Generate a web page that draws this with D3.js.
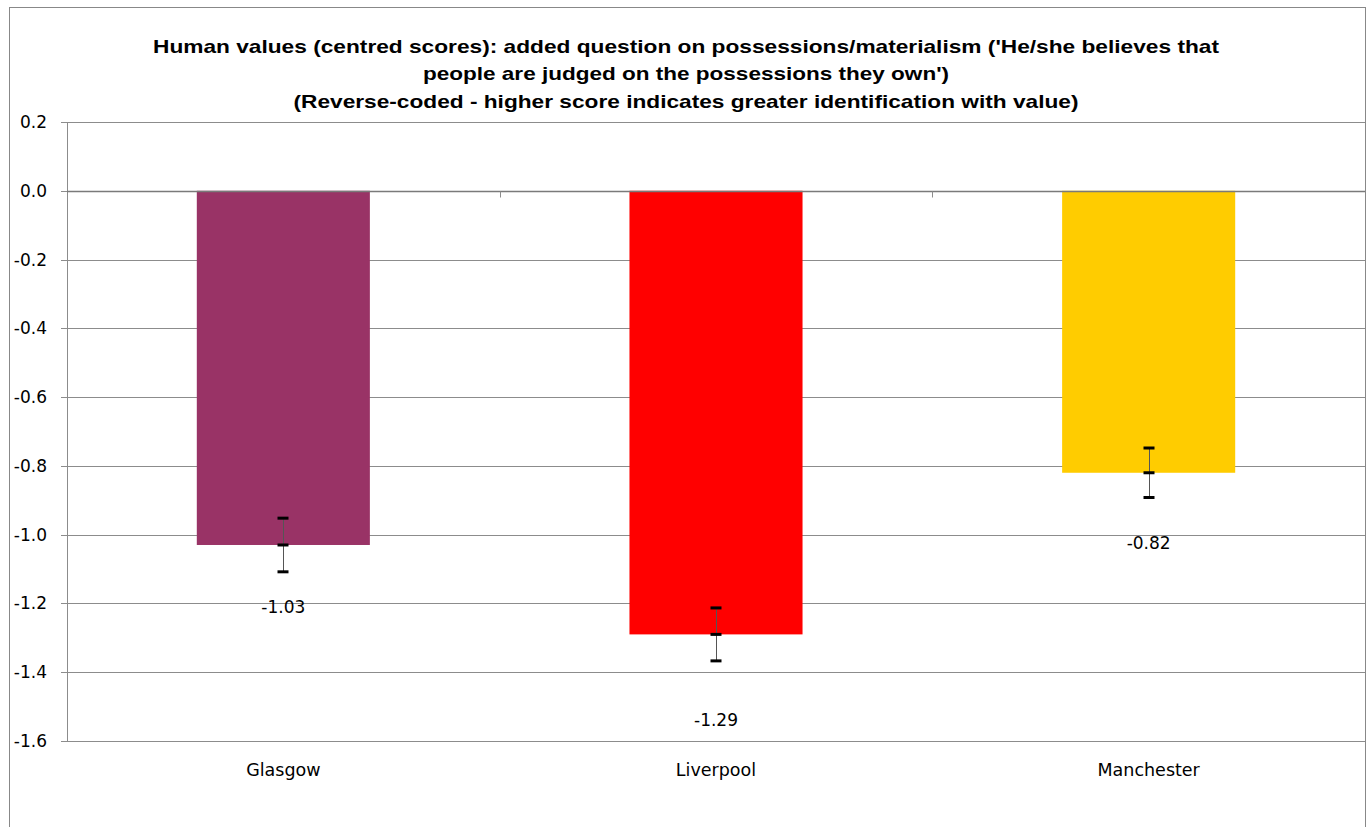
<!DOCTYPE html>
<html><head><meta charset="utf-8">
<script src="https://cdn.jsdelivr.net/npm/d3@7"></script>
<style>body{margin:0;background:#fff;}svg{display:block;}</style>
</head><body>
<svg id="c" width="1368" height="827"></svg>
<script>
const categories = ["Glasgow", "Liverpool", "Manchester"];
const values = [-1.03, -1.29, -0.82];
const errors = [0.078, 0.077, 0.072];
const labels = ["-1.03", "-1.29", "-0.82"];
const colors = ["#993366", "#FF0000", "#FFCC00"];
const yTicks = [0.2, 0.0, -0.2, -0.4, -0.6, -0.8, -1.0, -1.2, -1.4, -1.6];
const labelGap = [62, 86, 70];
const titleLines = [
  "Human values (centred scores): added question on possessions/materialism ('He/she believes that",
  "people are judged on the possessions they own')",
  "(Reverse-coded - higher score indicates greater identification with value)"
];

const FONT = "'DejaVu Sans', sans-serif";
const svg = d3.select("#c");
const W = 1368, H = 827;
const m = {left: 67, right: 1365, top: 122, bottom: 741};

svg.append("rect").attr("x", 9.5).attr("y", 7.5).attr("width", W - 12).attr("height", H + 10)
  .attr("fill", "#fff").attr("stroke", "#888").attr("stroke-width", 1);

const x = d3.scaleBand().domain(categories).range([m.left, m.right]).paddingInner(0.6).paddingOuter(0.3);
const y = d3.scaleLinear().domain([-1.6, 0.2]).range([m.bottom, m.top]);

// gridlines
svg.append("g").selectAll("line").data(yTicks).join("line")
  .attr("x1", m.left - 6).attr("x2", m.right)
  .attr("y1", d => Math.round(y(d)) + 0.5).attr("y2", d => Math.round(y(d)) + 0.5)
  .attr("stroke", "#8c8c8c").attr("stroke-width", 1);

// y axis line
svg.append("line").attr("x1", m.left + 0.5).attr("x2", m.left + 0.5)
  .attr("y1", y(0.2)).attr("y2", y(-1.6)).attr("stroke", "#8c8c8c");

// y labels
svg.append("g").selectAll("text").data(yTicks).join("text")
  .attr("x", 47).attr("y", d => y(d)).attr("dy", "0.35em")
  .attr("text-anchor", "end").attr("font-family", FONT)
  .attr("font-size", 17).attr("fill", "#000")
  .text(d => d3.format(".1f")(d).replace("−", "-"));

// bars
svg.append("g").selectAll("rect").data(categories).join("rect")
  .attr("x", d => x(d)).attr("width", x.bandwidth())
  .attr("y", (d, i) => y(0)).attr("height", (d, i) => y(values[i]) - y(0))
  .attr("fill", (d, i) => colors[i]);

// category axis at 0
const y0 = Math.round(y(0)) + 0.5;
svg.append("line").attr("x1", m.left).attr("x2", m.right).attr("y1", y0).attr("y2", y0)
  .attr("stroke", "#7a7a7a").attr("stroke-width", 1.5);
const bounds = [1, 2].map(k => m.left + k * (m.right - m.left) / 3);
svg.append("g").selectAll("line").data(bounds).join("line")
  .attr("x1", d => Math.round(d) + 0.5).attr("x2", d => Math.round(d) + 0.5)
  .attr("y1", y0).attr("y2", y0 + 6).attr("stroke", "#8c8c8c");

// error bars
const eg = svg.append("g");
categories.forEach((c, i) => {
  const cx = Math.round(x(c) + x.bandwidth() / 2) + 0.5;
  const v = values[i], e = errors[i];
  eg.append("line").attr("x1", cx).attr("x2", cx).attr("y1", y(v + e)).attr("y2", y(v - e))
    .attr("stroke", "#555").attr("stroke-width", 1);
  [v + e, v, v - e].forEach(t => {
    eg.append("line").attr("x1", cx - 6).attr("x2", cx + 5).attr("y1", y(t)).attr("y2", y(t))
      .attr("stroke", "#000").attr("stroke-width", 3);
  });
});

// data labels
svg.append("g").selectAll("text").data(categories).join("text")
  .attr("x", d => x(d) + x.bandwidth() / 2)
  .attr("y", (d, i) => y(values[i]) + labelGap[i]).attr("dy", "0.35em")
  .attr("text-anchor", "middle").attr("font-family", FONT)
  .attr("font-size", 17).attr("fill", "#000")
  .text((d, i) => labels[i]);

// category labels
svg.append("g").selectAll("text").data(categories).join("text")
  .attr("x", d => x(d) + x.bandwidth() / 2).attr("y", 770).attr("dy", "0.35em")
  .attr("text-anchor", "middle").attr("font-family", FONT)
  .attr("font-size", 17.5).attr("fill", "#000")
  .text(d => d);

// title
const tl = [1066, 526, 785];
const ty = [46, 73, 101];
svg.append("g").selectAll("text").data(titleLines).join("text")
  .attr("x", 686).attr("y", (d, i) => ty[i]).attr("dy", "0.35em")
  .attr("text-anchor", "middle")
  .attr("font-family", "'Liberation Sans Narrow', 'Liberation Sans', sans-serif")
  .attr("font-weight", "bold").attr("font-size", 19).attr("fill", "#000")
  .attr("textLength", (d, i) => tl[i]).attr("lengthAdjust", "spacingAndGlyphs")
  .text(d => d);
</script>
</body></html>
